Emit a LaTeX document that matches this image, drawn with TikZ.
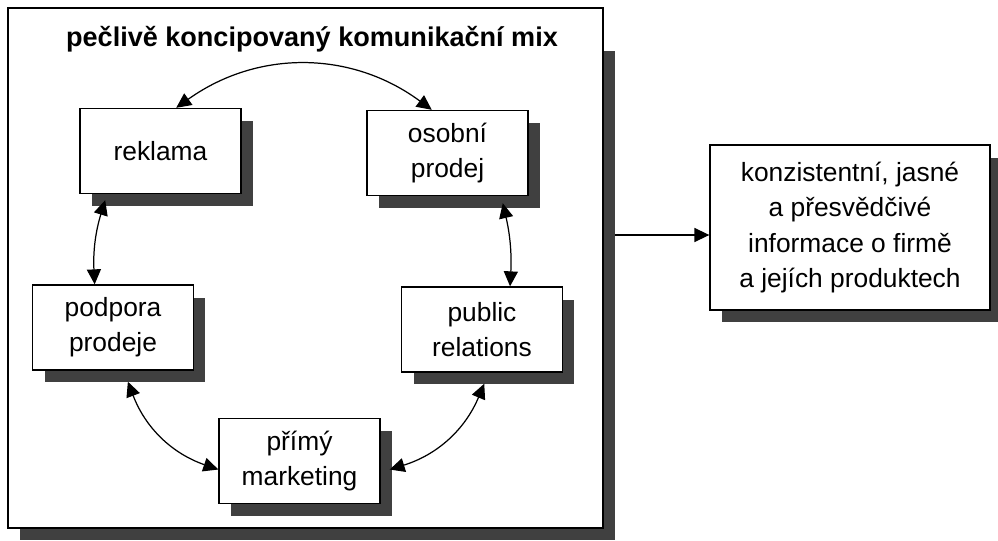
\documentclass[tikz,border=0pt]{standalone}
\usepackage{fontspec}
\setmainfont{Liberation Sans}
\usetikzlibrary{arrows.meta,shadows}

\begin{document}
\begin{tikzpicture}[x=0.02cm,y=-0.02cm,font=\fontsize{15}{20}\selectfont,
  box/.style={draw,fill=white,line width=0.8pt,minimum width=3.22cm,minimum height=1.7cm,align=center,
    drop shadow={shadow xshift=0.24cm,shadow yshift=-0.25cm,opacity=1,fill=black!75}},
  link/.style={{Triangle[length=8.5pt,width=8pt]}-{Triangle[length=8.5pt,width=8pt]},line width=0.7pt}]
\useasboundingbox (0,0) rectangle (998,541);
\fill[black!75] (20,51) rectangle (615,540);
\node[draw,fill=white,line width=0.8pt,minimum width=11.9cm,minimum height=10.4cm] (mix) at (305.5,268) {};
\node[font=\fontsize{15.4}{20}\selectfont\bfseries] (title) at (312,39) {pečlivě koncipovaný komunikační mix};
\node[box] (reklama) at (160.5,151) {reklama};
\node[box] (osobni) at (447.5,153) {osobní\\prodej};
\node[box] (podpora) at (113,327.5) {podpora\\prodeje};
\node[box] (pr) at (482,329.5) {public\\relations};
\node[box] (primy) at (299.5,461) {přímý\\marketing};
\node[box,minimum width=5.6cm,minimum height=3.3cm] (info) at (850,227.5) {konzistentní, jasné\\a přesvědčivé\\informace o firmě\\a jejích produktech};
% vazby uvnitr mixu
\draw[link] (reklama.70) to[bend left=36] (osobni.110);
\draw[link] ([yshift=-0.12cm]reklama.218) to[bend right=10] (podpora.113);
\draw[link] ([yshift=-0.14cm]osobni.-38) to[bend left=8] (pr.57);
\draw[link] ([yshift=-0.22cm]podpora.-71) to[bend right=25] (primy.186);
\draw[link] ([yshift=-0.22cm]pr.-87) to[bend left=25] ([xshift=0.18cm]primy.-6);
% vystup
\coordinate (out) at (615,235);
\draw[-{Triangle[length=8.5pt,width=8pt]},line width=0.7pt] (out) -- (out -| info.west);
\end{tikzpicture}
\end{document}
